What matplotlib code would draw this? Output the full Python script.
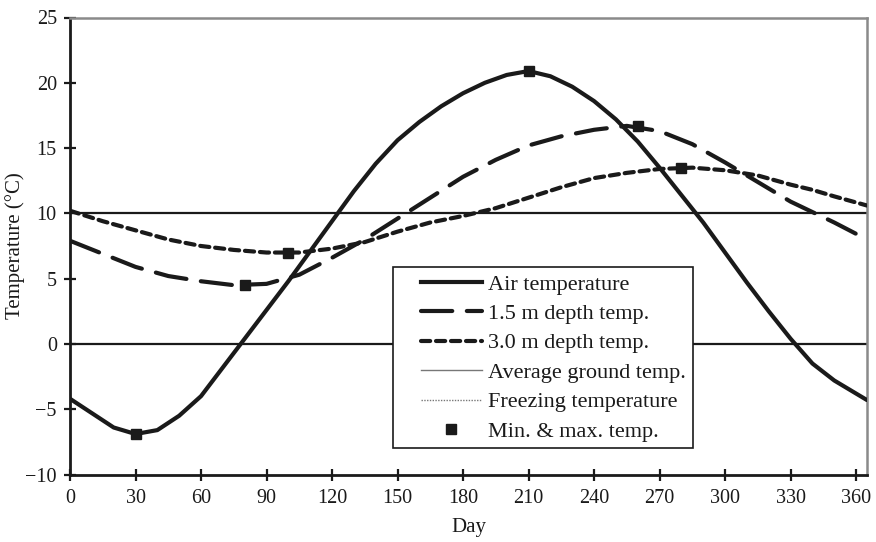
import matplotlib
matplotlib.use("Agg")
import matplotlib.pyplot as plt
from matplotlib.lines import Line2D
from matplotlib.legend_handler import HandlerLine2D

plt.rcParams["font.family"] = ["Liberation Serif", "DejaVu Serif"]

# Air temperature, sampled every 10 days (°C)
air_days = [0, 10, 20, 30, 40, 50, 60, 70, 80, 90, 100, 110, 120, 130, 140,
            150, 160, 170, 180, 190, 200, 210, 220, 230, 240, 250, 260, 270,
            280, 290, 300, 310, 320, 330, 340, 350, 365]
air_temp = [-4.2, -5.3, -6.4, -6.9, -6.6, -5.5, -4.0, -1.8, 0.4, 2.6, 4.8,
            7.1, 9.4, 11.7, 13.8, 15.6, 17.0, 18.2, 19.2, 20.0, 20.6, 20.9,
            20.5, 19.7, 18.6, 17.2, 15.5, 13.5, 11.4, 9.3, 7.0, 4.7, 2.5,
            0.4, -1.5, -2.8, -4.3]

# Ground temperatures at depth, sampled every 15 days (°C)
depth_days = [0, 15, 30, 45, 60, 75, 90, 105, 120, 135, 150, 165, 180, 195,
              210, 225, 240, 255, 270, 285, 300, 315, 330, 340, 350, 365]
depth_15 = [7.9, 6.9, 5.9, 5.2, 4.8, 4.5, 4.6, 5.3, 6.6, 8.0, 9.6, 11.2,
            12.8, 14.1, 15.2, 15.9, 16.4, 16.7, 16.3, 15.3, 13.9, 12.4,
            10.9, 10.1, 9.3, 8.0]
depth_30 = [10.2, 9.4, 8.7, 8.0, 7.5, 7.2, 7.0, 7.0, 7.3, 7.8, 8.6, 9.3,
            9.8, 10.4, 11.2, 12.0, 12.7, 13.1, 13.4, 13.5, 13.3, 12.9,
            12.2, 11.8, 11.3, 10.6]

avg_ground_temp = 10.0
freezing_temp = 0.0

# Annual minimum / maximum points
extreme_days = [30, 210, 80, 260, 100, 280]
extreme_temps = [-6.9, 20.9, 4.5, 16.7, 7.0, 13.5]

x_ticks = list(range(0, 361, 30))
y_ticks = list(range(-10, 26, 5))

INK = "#1a1a1a"


class InsetHandler(HandlerLine2D):
    """Line handler that leaves extra room on the left of the legend key."""

    def __init__(self, inset=8.0, **kw):
        super().__init__(**kw)
        self.inset = inset

    def create_artists(self, legend, orig_handle, xdescent, ydescent,
                       width, height, fontsize, trans):
        return super().create_artists(legend, orig_handle,
                                      xdescent - self.inset, ydescent,
                                      width - self.inset, height,
                                      fontsize, trans)


fig = plt.figure(figsize=(8.76, 5.42), dpi=100)
ax = fig.add_axes([70 / 876, (542 - 474.5) / 542, 797 / 876, 457 / 542])

ax.axhline(avg_ground_temp, color=INK, lw=1.6, zorder=2)
ax.axhline(freezing_temp, color=INK, lw=1.6, zorder=2)

ax.plot(air_days, air_temp, color=INK, lw=3.0, solid_capstyle="round",
        solid_joinstyle="round", zorder=3)
ax.plot(depth_days, depth_15, color=INK, lw=3.0, dashes=(7.5, 3.5),
        dash_capstyle="round", zorder=3)
ax.plot(depth_days, depth_30, color=INK, lw=3.0, dashes=(2.2, 1.4),
        dash_capstyle="round", zorder=3)
ax.plot(extreme_days, extreme_temps, ls="none", marker="s", ms=7.5,
        color=INK, zorder=4)

ax.set_xlim(0, 365)
ax.set_ylim(-10, 25)
ax.set_xticks(x_ticks)
ax.set_yticks(y_ticks)
ax.tick_params(direction="inout", length=9, width=1.6, labelsize=14.5,
               colors=INK, pad=5)
ax.tick_params(axis="x", pad=6)

for side in ("left", "bottom"):
    ax.spines[side].set_color(INK)
    ax.spines[side].set_linewidth(2.0)
for side in ("top", "right"):
    ax.spines[side].set_color("#8a8a8a")
    ax.spines[side].set_linewidth(1.8)

ax.set_xlabel("Day", fontsize=15, labelpad=7, color=INK)
ax.set_ylabel("Temperature (°C)", fontsize=15, color=INK)
ax.yaxis.set_label_coords(-0.057, 0.5)

handles = [
    Line2D([], [], color=INK, lw=3.0),
    Line2D([], [], color=INK, lw=3.0, dashes=(7.5, 3.5), dash_capstyle="round"),
    Line2D([], [], color=INK, lw=3.0, dashes=(2.2, 1.4), dash_capstyle="round"),
    Line2D([], [], color="#777777", lw=1.0),
    Line2D([], [], color="#777777", lw=1.0, ls=(0, (1, 1))),
    Line2D([], [], color=INK, ls="none", marker="s", ms=7),
]
labels = ["Air temperature", "1.5 m depth temp.", "3.0 m depth temp.",
          "Average ground temp.", "Freezing temperature", "Min. & max. temp."]
leg = ax.legend(handles, labels, loc="lower left",
                bbox_to_anchor=(0.405, 0.057), fontsize=16, frameon=True,
                fancybox=False, framealpha=1.0, edgecolor=INK,
                handlelength=3.7, handletextpad=0.3, labelspacing=0.4,
                borderpad=0.3, borderaxespad=0.0,
                handler_map={Line2D: InsetHandler(inset=15.5)})
leg.get_frame().set_linewidth(1.2)
leg.set_zorder(5)
for t in leg.get_texts():
    t.set_color(INK)

fig.savefig("out.png", dpi=100)
